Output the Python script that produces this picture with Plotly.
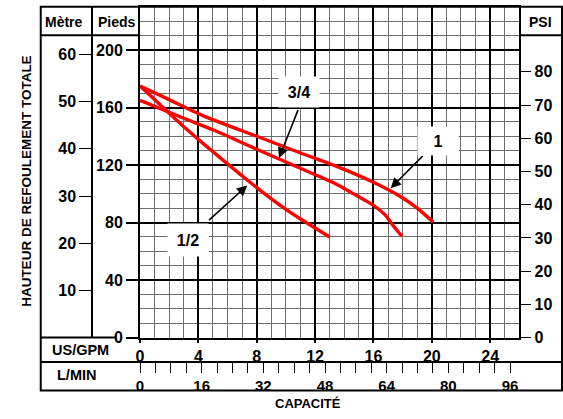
import plotly.graph_objects as go

# ---------------- data ----------------
gpm_half = [0, 1, 2, 3, 4, 5, 6, 7, 8, 9, 10, 11, 12, 13]
ft_half = [175, 165.5, 156, 146.7, 137.8, 129.2, 120.8, 112.5, 104.3, 96.5, 89.2, 82.5, 76.2, 70]

gpm_34 = [0, 3, 5, 8, 11.1, 13.4, 15.2, 16, 16.8, 17.3, 17.95]
ft_34 = [165, 152.5, 144.5, 131, 117.2, 107, 96.7, 92, 85.3, 78.5, 70.5]

gpm_1 = [0, 2, 4.5, 8, 11.1, 13.4, 16, 17.9, 19, 20.1]
ft_1 = [175, 165.5, 153.5, 140, 128, 119.4, 108, 97.8, 90, 80.3]

curve_names = ["1/2", "3/4", "1"]

gpm_ticks = [0, 4, 8, 12, 16, 20, 24]
lmin_ticks = [0, 16, 32, 48, 64, 80, 96]
pieds_ticks = [0, 40, 80, 120, 160, 200]
metre_ticks = [10, 20, 30, 40, 50, 60]
psi_ticks = [0, 10, 20, 30, 40, 50, 60, 70, 80]

GPM_MAX = 26
FT_MAX = 230
LMIN_PER_GPM = 3.785
FT_PER_M = 3.2808
FT_PER_PSI = 2.31

# ---------------- layout helpers ----------------
W, H = 563, 419
FONT = "Arial, 'Liberation Sans', sans-serif"
RED = "rgb(255,0,0)"
GRID_MINOR = "#6e6e6e"


def px(x):
    return x / W


def py(y):
    return (H - y) / H


fig = go.Figure()

for gx, gy in [(gpm_half, ft_half), (gpm_34, ft_34), (gpm_1, ft_1)]:
    fig.add_trace(go.Scatter(x=gx, y=gy, mode="lines",
                             line=dict(color=RED, width=3.4, shape="spline", smoothing=0.6),
                             hoverinfo="skip", showlegend=False))

# empty traces to activate the extra axes
fig.add_trace(go.Scatter(x=[], y=[], xaxis="x2", yaxis="y", showlegend=False, hoverinfo="skip"))
fig.add_trace(go.Scatter(x=[], y=[], xaxis="x", yaxis="y2", showlegend=False, hoverinfo="skip"))
fig.add_trace(go.Scatter(x=[], y=[], xaxis="x", yaxis="y3", showlegend=False, hoverinfo="skip"))

tickfont = dict(family=FONT, size=16, color="black", weight="bold")
lminfont = dict(family=FONT, size=15, color="black", weight="bold")

fig.update_layout(
    width=W, height=H, autosize=False,
    margin=dict(l=0, r=0, t=0, b=0),
    paper_bgcolor="white", plot_bgcolor="white",
    xaxis=dict(
        domain=[px(137), px(519)], range=[0, GPM_MAX],
        tickmode="array", tickvals=gpm_ticks,
        ticks="outside", ticklen=3, tickwidth=1.5, tickcolor="black",
        tickfont=tickfont,
        showgrid=True, gridcolor="black", gridwidth=2,
        minor=dict(dtick=1, tick0=0, showgrid=True, gridcolor=GRID_MINOR, gridwidth=1.2, ticks=""),
        showline=True, linecolor="black", linewidth=2, mirror=True,
        zeroline=False, fixedrange=True,
    ),
    xaxis2=dict(
        overlaying="x", anchor="free", position=py(370), side="bottom",
        range=[0, GPM_MAX * LMIN_PER_GPM],
        tickmode="array", tickvals=lmin_ticks,
        ticks="outside", ticklen=10, tickwidth=1.2, tickcolor="black",
        tickfont=lminfont,
        minor=dict(dtick=4, tick0=0, ticks="outside", ticklen=10, tickwidth=1.2, tickcolor="black",
                   showgrid=False),
        showgrid=False, showline=False, zeroline=False,
    ),
    yaxis=dict(
        domain=[py(345), py(7)], range=[0, FT_MAX],
        tickmode="array", tickvals=pieds_ticks,
        ticks="outside", ticklen=12, tickwidth=2, tickcolor="black",
        tickfont=tickfont,
        showgrid=True, gridcolor="black", gridwidth=2,
        minor=dict(dtick=10, tick0=0, showgrid=True, gridcolor=GRID_MINOR, gridwidth=1.2, ticks=""),
        showline=True, linecolor="black", linewidth=2, mirror=True,
        zeroline=False, fixedrange=True,
    ),
    yaxis2=dict(
        overlaying="y", anchor="free", position=px(89), side="left",
        range=[0, FT_MAX / FT_PER_M],
        tickmode="array", tickvals=metre_ticks,
        ticks="outside", ticklen=12, tickwidth=1.2, tickcolor="black",
        tickfont=tickfont,
        showgrid=False, zeroline=False,
        showline=True, linecolor="black", linewidth=2,
    ),
    yaxis3=dict(
        overlaying="y", anchor="x", side="right",
        range=[0, FT_MAX / FT_PER_PSI],
        tickmode="array", tickvals=psi_ticks,
        ticks="outside", ticklen=11, tickwidth=1.2, tickcolor="black",
        tickfont=tickfont,
        showgrid=False, zeroline=False, showline=False,
    ),
)

# ---------------- table frame ----------------
LW = 2
frame = [
    # outer box
    dict(type="rect", x0=px(37), x1=px(562), y0=py(399), y1=py(7)),
    # header row separators
    dict(type="line", x0=px(37), x1=px(137), y0=py(36), y1=py(36)),
    dict(type="line", x0=px(519), x1=px(562), y0=py(36), y1=py(36)),
    # row separator below the left columns
    dict(type="line", x0=px(37), x1=px(113), y0=py(345), y1=py(345)),
    # L/MIN row top line
    dict(type="line", x0=px(37), x1=px(562), y0=py(370), y1=py(370)),
]
for s in frame:
    s.update(xref="paper", yref="paper", line=dict(color="black", width=LW))
    fig.add_shape(**s)

# ---------------- text ----------------
def bold(t):
    return "<b>" + t + "</b>"


texts = [
    ("Mètre", 60, 22, 14, 0),
    ("Pieds", 114, 22, 14, 0),
    ("PSI", 540, 22, 14, 0),
    ("US/GPM", 77, 358, 14.5, 0),
    ("L/MIN", 73, 383, 14.5, 0),
    ("CAPACITÉ", 306, 412, 13, 0),
    ("HAUTEUR DE REFOULEMENT TOTALE", 22, 185, 13.5, -90),
]
for t, x, y, s, ang in texts:
    fig.add_annotation(text=bold(t), x=px(x), y=py(y), xref="paper", yref="paper",
                       showarrow=False, textangle=ang, xanchor="center", yanchor="middle",
                       font=dict(family=FONT, size=s, color="black"))

# arrows (tail -> head), in data coordinates
arrows = [
    ((4.63, 80.7), (7.35, 105.8)),     # 1/2
    ((10.87, 159.2), (9.53, 124.9)),   # 3/4
    ((19.49, 127.4), (17.18, 103.9)),  # 1
]
for (tx, ty), (hx, hy) in arrows:
    fig.add_annotation(x=hx, y=hy, ax=tx, ay=ty, xref="x", yref="y", axref="x", ayref="y",
                       text="", showarrow=True, arrowhead=2, arrowsize=1.3, arrowwidth=1.6,
                       arrowcolor="black", standoff=0, startstandoff=0)

label_pos = [(3.27, 68.2, 40, 32), (10.9, 170.6, 40, 30), (20.4, 136.5, 40, 28)]
for name, (lx, ly, w, h) in zip(curve_names, label_pos):
    fig.add_annotation(x=lx, y=ly, xref="x", yref="y", text=bold(name), showarrow=False,
                       bgcolor="white", width=w, height=h, borderpad=0,
                       font=dict(family=FONT, size=16, color="black"))

# no body margin, no scrollbars
POST = (
    "var s=document.createElement('style');"
    "s.textContent='html,body{margin:0;padding:0;overflow:hidden;}';"
    "document.head.appendChild(s);"
)
fig.write_html("out.html", config={"displayModeBar": False}, post_script=POST)
